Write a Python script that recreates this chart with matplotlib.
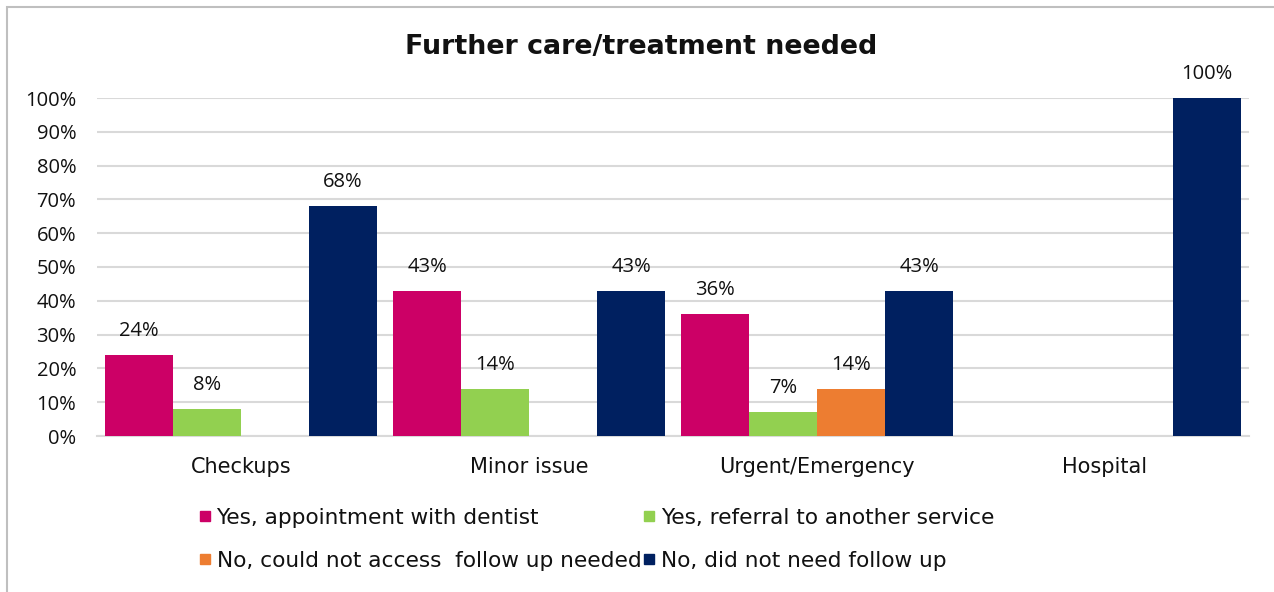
import matplotlib
matplotlib.use("Agg")
import matplotlib.pyplot as plt
from matplotlib.patches import Rectangle
from matplotlib.lines import Line2D
import numpy as np

categories = ["Checkups", "Minor issue", "Urgent/Emergency", "Hospital"]
series_names = [
    "Yes, appointment with dentist",
    "Yes, referral to another service",
    "No, could not access  follow up needed",
    "No, did not need follow up",
]
appointment = [24, 43, 36, 0]
referral = [8, 14, 7, 0]
no_access = [0, 0, 14, 0]
no_need = [68, 43, 43, 100]
colors = ["#CC0066", "#92D050", "#ED7D31", "#002060"]
y_ticks = [0, 10, 20, 30, 40, 50, 60, 70, 80, 90, 100]

W, H = 1274, 592
fig = plt.figure(figsize=(W / 100, H / 100), dpi=100)
ax = fig.add_axes([97 / W, 1 - 436 / H, (1249 - 97) / W, (436 - 98) / H])

series = [appointment, referral, no_access, no_need]
x = np.arange(len(categories))
bw = 68 / 288
for j, (vals, col) in enumerate(zip(series, colors)):
    pos = x + (j - 1.5) * bw
    bars = ax.bar(pos, vals, width=bw, color=col, zorder=3)
    for b, v in zip(bars, vals):
        if v > 0:
            ax.annotate(f"{v}%", (b.get_x() + b.get_width() / 2, v),
                        xytext=(0, 10), textcoords="offset points",
                        ha="center", va="bottom", fontsize=14.5,
                        family="Open Sans", color="#111111")

ax.set_xlim(-0.5, len(categories) - 0.5)
ax.set_ylim(0, 100)
ax.set_yticks(y_ticks)
ax.set_yticklabels([f"{t}%" for t in y_ticks], family="Open Sans", fontsize=14.5)
ax.set_xticks(x)
ax.set_xticklabels(categories, family="DejaVu Sans", fontsize=15)
ax.tick_params(axis="both", length=0, colors="#111111")
ax.tick_params(axis="y", pad=15)
ax.tick_params(axis="x", pad=15)
ax.grid(axis="y", color="#D9D9D9", linewidth=1.5, zorder=0)
for s in ["top", "right", "left"]:
    ax.spines[s].set_visible(False)
ax.spines["bottom"].set_color("#D9D9D9")
ax.spines["bottom"].set_linewidth(1.5)

fig.text(641 / W, 1 - 47 / H, "Further care/treatment needed", ha="center",
         va="center", fontsize=19.4, fontweight="bold", family="DejaVu Sans",
         color="#111111")

handles = [Line2D([], [], marker="s", linestyle="none", markersize=7.5,
                  markerfacecolor=c, markeredgecolor=c) for c in colors]
order = [0, 2, 1, 3]
leg = fig.legend([handles[i] for i in order], [series_names[i] for i in order],
                 ncol=2, loc="upper left", bbox_to_anchor=(197 / W, 1 - 508 / H),
                 frameon=False, prop={"family": "DejaVu Sans", "size": 15.6},
                 borderpad=0, borderaxespad=0,
                 handletextpad=0.2, columnspacing=0.0, labelspacing=1.05,
                 handlelength=0.7)
for t in leg.get_texts():
    t.set_color("#111111")

fig.patches.append(Rectangle((7 / W, -0.1), 1.2, 1 - 7 / H + 0.1,
                             transform=fig.transFigure, fill=False,
                             edgecolor="#BFBFBF", linewidth=1.5))

fig.savefig("out.png", dpi=100)
